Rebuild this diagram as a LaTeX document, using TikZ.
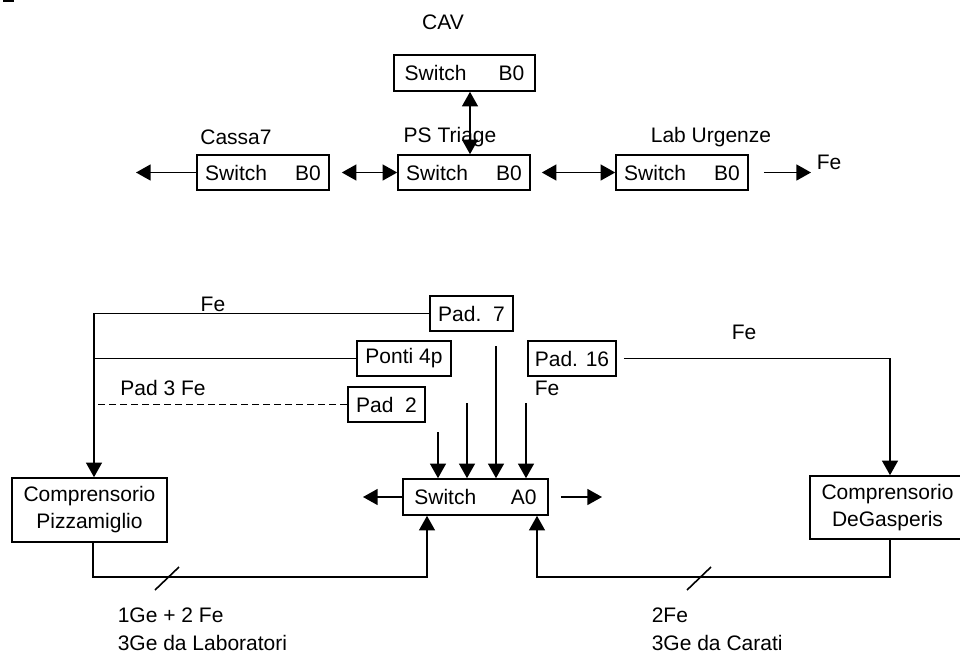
\documentclass[tikz,border=0pt]{standalone}
\usepackage{fontspec}
\setmainfont{Liberation Sans}
\usetikzlibrary{arrows.meta,calc}

\tikzset{every picture/.style={line width=1.2pt}}

\begin{document}
\begin{tikzpicture}[
            x=0.75pt,
            y=0.75pt,
            yscale=-1,
            xscale=1,
            every node/.style={text=black, inner sep=0pt, font=\fontsize{15.75}{20.25}\selectfont},
            box/.style={draw, rectangle, minimum height=26.25pt},
            arr/.style={-{Triangle[length=11pt,width=12pt]}},
            dbl/.style={{Triangle[length=11pt,width=12pt]}-{Triangle[length=11pt,width=12pt]}},
            line width=1.2pt
        ]
            \useasboundingbox (0,0) rectangle (960,657);
            \fill (3,0) rectangle (14,2);

            % switches B0
            \draw (464.5,73) node [box, minimum width=105.75pt, minimum height=27pt] (cav) {Switch\hspace{24pt}B0};
            \draw (263,172.5) node [box, minimum width=99pt] (cassa) {Switch\hspace{21pt}B0};
            \draw (464,172.5) node [box, minimum width=99pt] (triage) {Switch\hspace{21pt}B0};
            \draw (682,172.5) node [box, minimum width=99pt] (lab) {Switch\hspace{21pt}B0};

            \draw (443,22) node (cavlbl) {CAV};
            \draw (236,137) node (cassalbl) {Cassa7};
            \draw (450,137) node (triagelbl) {PS Triage};
            \draw (711,137) node (lablbl) {Lab Urgenze};
            \draw (816,162) node [anchor=west] (labfe) {Fe};

            \coordinate (cassaout) at (136,172.5);
            \coordinate (labout) at (811,172.5);
            \draw [arr] (cassa.west) -- (cassaout);
            \draw [dbl] ($(cassa.east)+(12,0)$) -- (triage.west);
            \draw [dbl] ($(triage.east)+(11,0)$) -- (lab.west);
            \draw [arr] ($(lab.east)+(15,0)$) -- (labout);
            \draw [dbl] ($(cav.south)+(5.5,0)$) -- ($(triage.north)+(6,0)$);

            % pads and A0
            \draw (471.5,313.5) node [box, minimum width=62.25pt] (pad7) {Pad.\ \ 7};
            \draw (404,358.5) node [box, minimum width=70.5pt] (ponti) {Ponti 4p};
            \draw (386.5,404.5) node [box, minimum width=57.75pt] (pad2) {Pad\ \ 2};
            \draw (572,358.5) node [box, minimum width=66pt] (pad16) {Pad. 16};
            \draw (475.5,497) node [box, minimum width=108.75pt, minimum height=27pt] (a0) {Switch\hspace{26pt}A0};
            \draw (89.5,510) node [box, minimum width=116.25pt, minimum height=48pt, align=center] (pizza) {Comprensorio\\Pizzamiglio};
            \draw (887.5,507.5) node [box, minimum width=116.25pt, minimum height=47.25pt, align=center] (degas) {Comprensorio\\DeGasperis};

            \draw (213,304) node (pad7fe) {Fe};
            \draw (163,388) node (pad3fe) {Pad 3 Fe};
            \draw (744,332) node (pad16fe) {Fe};
            \draw (547,388) node (a0fe) {Fe};

            \coordinate (trunk) at (94,0);
            \coordinate (dtrunk) at (98,0);
            \draw [arr] (pad7.west) -| ($(pizza.north)+(4.5,0)$);
            \draw (ponti.west) -- (ponti.west -| trunk);
            \draw [dash pattern=on 5.25pt off 3pt] (pad2.west) -- (pad2.west -| dtrunk);
            \draw [arr] ($(pad16.east)+(7,0)$) -| ($(degas.north)+(2.5,0)$);

            \foreach \x/\y in {438/432, 467/403, 496/346, 526/403}
                \draw [arr] (\x,\y) -- (\x,\y |- a0.north);

            \coordinate (a0lout) at (363,497);
            \coordinate (a0rout) at (602,497);
            \draw [arr] (a0.west) -- (a0lout);
            \draw [arr] ($(a0.east)+(12,0)$) -- (a0rout);

            \coordinate (lbus) at (427,577);
            \coordinate (rbus) at (537,577);
            \draw [arr] ($(pizza.south)+(3.5,0)$) |- (lbus) -- (lbus |- a0.south);
            \draw [arr] ($(degas.south)+(2.5,0)$) |- (rbus) -- (rbus |- a0.south);
            \draw (155,590) -- (179,567);
            \draw (687,590) -- (711,567);

            \draw (117,615) node [anchor=west] (lnote1) {1Ge + 2 Fe};
            \draw (117,643) node [anchor=west] (lnote2) {3Ge da Laboratori};
            \draw (651,615) node [anchor=west] (rnote1) {2Fe};
            \draw (651,643) node [anchor=west] (rnote2) {3Ge da Carati};
        \end{tikzpicture}
\end{document}
